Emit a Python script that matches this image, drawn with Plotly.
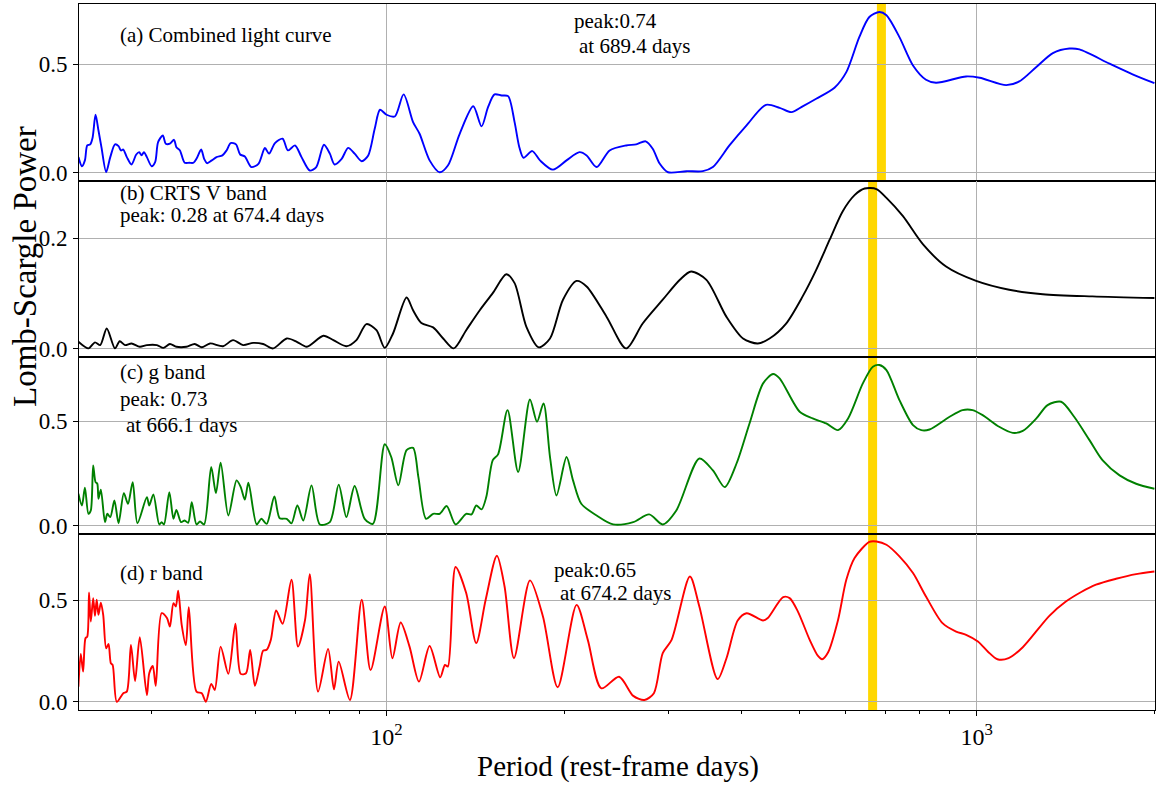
import numpy as np
import plotly.graph_objects as go
from plotly.subplots import make_subplots

# ---------------- data (log10 of period in rest-frame days, Lomb-Scargle power) -------------
log_period_a = [1.478,1.484,1.489,1.493,1.498,1.502,1.507,1.512,1.517,1.525,
                1.532,1.540,1.546,1.550,1.554,1.560,1.568,1.576,1.581,1.585,
                1.589,1.594,1.602,1.608,1.613,1.621,1.626,1.633,1.640,1.644,
                1.650,1.658,1.666,1.673,1.678,1.686,1.691,1.696,1.704,1.712,
                1.722,1.729,1.736,1.745,1.752,1.760,1.771,1.783,1.794,1.801,
                1.811,1.824,1.833,1.845,1.856,1.870,1.881,1.894,1.904,1.912,
                1.924,1.935,1.946,1.958,1.969,1.980,1.989,2.000,2.014,2.029,
                2.045,2.056,2.073,2.090,2.104,2.124,2.147,2.161,2.172,2.183,
                2.195,2.206,2.217,2.225,2.232,2.247,2.260,2.282,2.305,2.327,
                2.339,2.356,2.378,2.406,2.423,2.439,2.451,2.463,2.477,2.508,
                2.536,2.553,2.581,2.610,2.643,2.666,2.686,2.705,2.728,2.759,
                2.779,2.801,2.818,2.835,2.847,2.869,2.892,2.914,2.931,2.982,
                3.005,3.050,3.072,3.101,3.129,3.157,3.174,3.225,3.264,3.301]
power_a = [0.071,0.029,0.056,0.125,0.130,0.161,0.267,0.194,0.117,0.002,
           0.071,0.130,0.122,0.102,0.106,0.071,0.037,0.083,0.094,0.079,
           0.094,0.071,0.029,0.048,0.140,0.171,0.133,0.133,0.151,0.117,
           0.102,0.045,0.045,0.045,0.063,0.106,0.063,0.043,0.056,0.071,
           0.079,0.102,0.136,0.130,0.083,0.074,0.025,0.040,0.113,0.087,
           0.136,0.156,0.102,0.125,0.071,0.009,0.025,0.128,0.087,0.037,
           0.063,0.114,0.087,0.052,0.079,0.202,0.290,0.267,0.259,0.361,
           0.233,0.179,0.056,0.001,0.032,0.179,0.306,0.213,0.302,0.361,
           0.356,0.353,0.233,0.117,0.068,0.099,0.056,0.013,0.056,0.094,
           0.079,0.025,0.102,0.125,0.130,0.144,0.110,0.040,0.001,0.006,
           0.006,0.025,0.125,0.218,0.313,0.299,0.279,0.306,0.341,0.392,
           0.464,0.626,0.719,0.742,0.727,0.626,0.495,0.429,0.415,0.444,
           0.438,0.404,0.421,0.488,0.552,0.573,0.569,0.503,0.454,0.413]

log_period_b = [1.478,1.495,1.506,1.515,1.526,1.540,1.548,1.557,1.568,1.582,
                1.594,1.611,1.622,1.633,1.644,1.661,1.675,1.687,1.701,1.723,
                1.740,1.757,1.774,1.791,1.808,1.831,1.848,1.865,1.893,1.910,
                1.932,1.949,1.966,1.983,1.997,2.011,2.034,2.045,2.059,2.079,
                2.096,2.114,2.135,2.158,2.180,2.203,2.217,2.237,2.258,2.277,
                2.299,2.322,2.339,2.373,2.406,2.434,2.468,2.497,2.516,2.542,
                2.576,2.604,2.629,2.649,2.677,2.705,2.728,2.751,2.773,2.793,
                2.810,2.830,2.847,2.875,2.909,2.948,2.999,3.055,3.112,3.196,3.301]
power_b = [0.013,0.001,0.012,0.007,0.037,0.001,0.014,0.007,0.010,0.004,
           0.007,0.007,0.002,0.009,0.004,0.004,0.009,0.003,0.010,0.005,
           0.016,0.007,0.011,0.009,0.001,0.019,0.013,0.004,0.024,0.016,
           0.005,0.016,0.045,0.034,0.002,0.028,0.093,0.070,0.047,0.039,
           0.019,0.001,0.034,0.070,0.101,0.135,0.119,0.040,0.003,0.019,
           0.089,0.123,0.113,0.058,0.001,0.046,0.089,0.125,0.140,0.125,
           0.058,0.019,0.010,0.019,0.046,0.095,0.143,0.198,0.249,0.278,
           0.290,0.289,0.273,0.240,0.189,0.149,0.123,0.107,0.099,0.095,0.092]

log_period_c = [1.478,1.484,1.489,1.495,1.499,1.503,1.507,1.510,1.512,1.516,
                1.523,1.527,1.532,1.539,1.546,1.555,1.562,1.570,1.578,1.594,
                1.598,1.605,1.615,1.619,1.623,1.632,1.639,1.644,1.652,1.658,
                1.664,1.670,1.678,1.684,1.691,1.703,1.711,1.719,1.732,1.746,
                1.753,1.760,1.766,1.780,1.788,1.797,1.810,1.819,1.831,1.839,
                1.849,1.859,1.873,1.887,1.904,1.919,1.932,1.946,1.963,1.977,
                1.997,2.008,2.020,2.034,2.045,2.054,2.067,2.079,2.090,2.102,
                2.117,2.135,2.144,2.152,2.161,2.169,2.180,2.189,2.205,2.223,
                2.243,2.255,2.266,2.277,2.288,2.305,2.316,2.330,2.356,2.384,
                2.418,2.445,2.468,2.491,2.530,2.553,2.573,2.593,2.615,2.638,
                2.655,2.666,2.700,2.722,2.745,2.765,2.782,2.807,2.824,2.835,
                2.847,2.869,2.892,2.906,2.920,2.954,2.976,2.993,3.010,3.038,
                3.061,3.078,3.101,3.120,3.143,3.165,3.191,3.213,3.242,3.270,3.301]
power_c = [0.152,0.096,0.181,0.056,0.072,0.288,0.208,0.200,0.128,0.172,
           0.016,0.056,0.040,0.120,0.011,0.155,0.104,0.208,0.011,0.136,
           0.096,0.149,0.005,0.016,0.005,0.160,0.032,0.075,0.016,0.024,
           0.013,0.112,0.005,0.019,0.005,0.280,0.155,0.301,0.048,0.216,
           0.184,0.124,0.205,0.005,0.032,0.008,0.139,0.035,0.032,0.010,
           0.096,0.024,0.192,0.005,0.016,0.196,0.040,0.189,0.032,0.008,
           0.389,0.328,0.192,0.361,0.372,0.232,0.032,0.056,0.056,0.093,
           0.005,0.056,0.053,0.096,0.077,0.136,0.313,0.341,0.553,0.256,
           0.604,0.497,0.585,0.328,0.144,0.328,0.216,0.104,0.048,0.005,
           0.016,0.053,0.005,0.072,0.321,0.264,0.184,0.297,0.489,0.681,
           0.726,0.705,0.545,0.513,0.489,0.457,0.513,0.681,0.761,0.769,
           0.745,0.601,0.481,0.457,0.460,0.521,0.553,0.553,0.529,0.473,
           0.444,0.453,0.513,0.577,0.593,0.521,0.409,0.313,0.240,0.200,0.176]

log_period_d = [1.478,1.482,1.486,1.490,1.493,1.496,1.499,1.503,1.506,1.509,
                1.512,1.516,1.520,1.525,1.529,1.533,1.536,1.543,1.554,1.560,
                1.567,1.574,1.582,1.594,1.598,1.604,1.609,1.619,1.628,1.633,
                1.639,1.643,1.647,1.653,1.660,1.665,1.678,1.687,1.694,1.703,
                1.709,1.719,1.732,1.744,1.753,1.762,1.769,1.777,1.785,1.791,
                1.797,1.804,1.813,1.824,1.839,1.850,1.862,1.870,1.884,1.901,
                1.911,1.919,1.938,1.958,1.973,1.997,2.010,2.024,2.039,2.055,
                2.073,2.091,2.099,2.104,2.117,2.135,2.152,2.168,2.187,2.200,
                2.216,2.243,2.265,2.290,2.322,2.341,2.364,2.394,2.418,2.437,
                2.453,2.468,2.483,2.514,2.530,2.561,2.576,2.595,2.610,2.638,
                2.646,2.672,2.683,2.697,2.717,2.731,2.738,2.748,2.765,2.779,
                2.793,2.818,2.830,2.847,2.869,2.892,2.914,2.942,2.965,2.982,
                3.002,3.019,3.035,3.054,3.078,3.123,3.151,3.177,3.202,3.236,
                3.270,3.301]
power_d = [0.075,0.236,0.149,0.313,0.321,0.538,0.395,0.510,0.423,0.502,
           0.428,0.488,0.428,0.264,0.285,0.190,0.182,0.001,0.043,0.051,
           0.280,0.103,0.318,0.034,0.141,0.177,0.079,0.436,0.412,0.370,
           0.485,0.469,0.546,0.379,0.280,0.466,0.051,0.043,0.001,0.089,
           0.059,0.272,0.138,0.384,0.138,0.141,0.256,0.079,0.174,0.252,
           0.256,0.305,0.449,0.384,0.600,0.272,0.403,0.628,0.051,0.261,
           0.062,0.198,0.010,0.502,0.157,0.469,0.215,0.390,0.272,0.100,
           0.275,0.121,0.182,0.174,0.663,0.535,0.289,0.502,0.718,0.567,
           0.215,0.597,0.420,0.072,0.477,0.305,0.067,0.124,0.030,0.010,
           0.043,0.240,0.305,0.616,0.469,0.112,0.215,0.400,0.436,0.400,
           0.412,0.515,0.510,0.444,0.305,0.226,0.210,0.243,0.403,0.600,
           0.707,0.786,0.788,0.772,0.715,0.633,0.518,0.387,0.346,0.330,
           0.297,0.247,0.210,0.215,0.269,0.423,0.493,0.540,0.576,0.605,
           0.628,0.641]

panel_labels = ["(a) Combined light curve", "(b) CRTS V band", "(c) g band", "(d) r band"]
peak_periods = [689.4, 666.1]          # highlighted periods (combined, single bands)
y_tickvals = [[0.0, 0.5], [0.0, 0.2], [0.0, 0.5], [0.0, 0.5]]
x_major = [100, 1000]
x_major_text = ["10<sup>2</sup>", "10<sup>3</sup>"]
x_minor = [30, 40, 50, 60, 70, 80, 90, 200, 300, 400, 500, 600, 700, 800, 900, 2000]

# ---------------- figure ----------------
W, H = 1156, 788
L, R, T, B = 79, 1, 4, 78
FONT = "Liberation Serif, Times New Roman, serif"

def px(x):
    return (x - L) / (W - L - R)

def py(y):
    return (H - B - y) / (H - T - B)

series = [
    (log_period_a, power_a, "#0000ff"),
    (log_period_b, power_b, "#000000"),
    (log_period_c, power_c, "#008000"),
    (log_period_d, power_d, "#ff0000"),
]

fig = make_subplots(rows=4, cols=1, shared_xaxes=True, vertical_spacing=0)

y_ranges = []
for i, (lp, pw, col) in enumerate(series, start=1):
    n = min(len(lp), len(pw))
    period = 10 ** np.array(lp[:n])
    power = np.array(pw[:n])
    fig.add_trace(go.Scatter(x=period, y=power, mode="lines",
                             line=dict(color=col, width=1.9, shape="spline", smoothing=0.8),
                             hoverinfo="skip", showlegend=False), row=i, col=1)
    lo, hi = 0.0, power.max()
    span = hi - lo
    y_ranges.append([lo - 0.05 * span, hi + 0.05 * span])

axis_common = dict(showline=True, mirror=True, linecolor="black", linewidth=1,
                   zeroline=False, showgrid=True, gridcolor="#b0b0b0", gridwidth=1)

for i in range(1, 5):
    fig.update_yaxes(range=y_ranges[i - 1], tickvals=y_tickvals[i - 1],
                     ticktext=[f"{v:.1f}" for v in y_tickvals[i - 1]],
                     ticks="outside", ticklen=5, tickwidth=1, tickcolor="black",
                     ticklabelstandoff=1,
                     tickfont=dict(family=FONT, size=23, color="black"),
                     row=i, col=1, **axis_common)
    xa = dict(type="log", range=[1.479, 3.302], tickvals=x_major, **axis_common)
    if i == 4:
        xa.update(ticks="outside", ticklen=5, tickwidth=1, tickcolor="black",
                  ticktext=x_major_text, showticklabels=True,
                  tickfont=dict(family=FONT, size=24, color="black"),
                  minor=dict(tickvals=x_minor, ticks="outside", ticklen=3,
                             tickwidth=1, tickcolor="black", showgrid=False))
    else:
        xa.update(ticks="", showticklabels=False)
    fig.update_xaxes(row=i, col=1, **xa)

# highlighted peak period bands
fig.add_shape(type="line", xref="x", yref="y domain", x0=peak_periods[0], x1=peak_periods[0],
              y0=0, y1=1, line=dict(color="#FFD700", width=9), layer="below")
for i in (2, 3, 4):
    fig.add_shape(type="line", xref=f"x{i}", yref=f"y{i} domain",
                  x0=peak_periods[1], x1=peak_periods[1], y0=0, y1=1,
                  line=dict(color="#FFD700", width=9), layer="below")

texts = [
    (panel_labels[0], 118, 35),
    ("peak:0.74", 571.5, 21.5),
    ("at 689.4 days", 577, 46.5),
    (panel_labels[1], 118, 193),
    ("peak: 0.28 at 674.4 days", 118, 215),
    (panel_labels[2], 118, 371.5),
    ("peak: 0.73", 118, 399),
    ("at 666.1 days", 124, 425),
    (panel_labels[3], 118, 573),
    ("peak:0.65", 551.5, 570),
    ("at 674.2 days", 557.5, 593),
]
for txt, x, y in texts:
    fig.add_annotation(text=txt, xref="paper", yref="paper", x=px(x), y=py(y),
                       xanchor="left", yanchor="middle", showarrow=False,
                       font=dict(family=FONT, size=21, color="black"))

fig.add_annotation(text="Lomb-Scargle Power", xref="paper", yref="paper",
                   x=px(25), y=py(267), xanchor="center", yanchor="middle",
                   textangle=-90, showarrow=False,
                   font=dict(family=FONT, size=33, color="black"))
fig.add_annotation(text="Period (rest-frame days)", xref="paper", yref="paper",
                   x=px(617.5), y=py(766), xanchor="center", yanchor="middle",
                   showarrow=False, font=dict(family=FONT, size=29, color="black"))

fig.update_layout(width=W, height=H, margin=dict(l=L, r=R, t=T, b=B),
                  plot_bgcolor="white", paper_bgcolor="white", showlegend=False)

fig.write_html("out.html", config={"displayModeBar": False},
               post_script="document.body.style.margin='0';document.body.style.overflow='hidden';")
